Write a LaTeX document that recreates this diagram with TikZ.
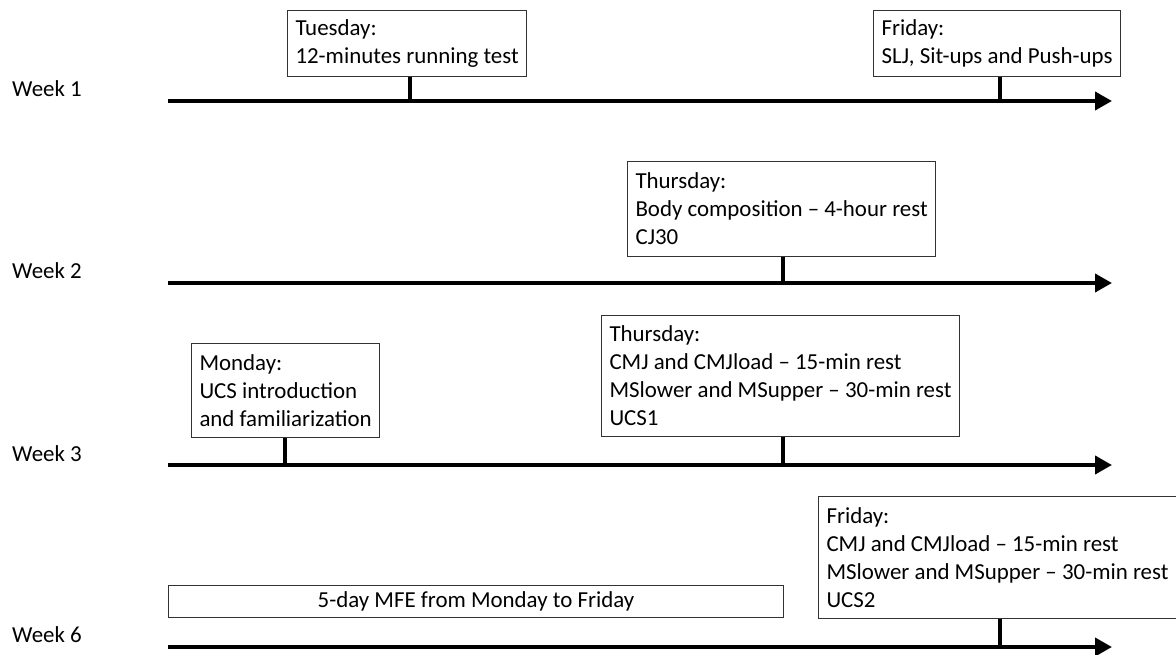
\documentclass[tikz,border=0pt]{standalone}
\usepackage{fontspec}
\setmainfont{Carlito}
\usetikzlibrary{arrows.meta}

\begin{document}
\begin{tikzpicture}[x=1pt,y=-1pt,every node/.style={font=\fontsize{22.9}{28}\selectfont}]
    \tikzstyle{daybox} = [rectangle,draw=black!80,line width=1pt,fill=white,anchor=north west,align=left,inner xsep=8pt,inner ysep=0pt]
    \tikzstyle{timeline} = [line width=4pt,-{Triangle[length=17pt,width=18pt]}]
    \tikzstyle{stem} = [line width=4pt]
    \tikzstyle{weeklabel} = [anchor=base west,inner sep=0pt]

    \useasboundingbox (0,0) rectangle (1176,655);

    % week 1
    \coordinate (w1s) at (168,101);
    \coordinate (w1e) at (1112,101);
    \node (week1) [weeklabel] at (12,97) {Week 1};
    \draw [timeline] (w1s) -- (w1e);
    \node (tue) [daybox, minimum height=66pt] at (287,10) {Tuesday:\\12-minutes running test};
    \node (fri1) [daybox, minimum height=66pt] at (873,10) {Friday:\\SLJ, Sit-ups and Push-ups};
    \coordinate (s1) at (410,101);
    \coordinate (s2) at (1000,101);
    \draw [stem] (s1 |- tue.south) -- (s1);
    \draw [stem] (s2 |- fri1.south) -- (s2);

    % week 2
    \coordinate (w2s) at (168,283);
    \coordinate (w2e) at (1112,283);
    \node (week2) [weeklabel] at (12,279) {Week 2};
    \draw [timeline] (w2s) -- (w2e);
    \node (thu2) [daybox, minimum height=95pt] at (627,161) {Thursday:\\Body composition -- 4-hour rest\\CJ30};
    \coordinate (s3) at (783,283);
    \draw [stem] (s3 |- thu2.south) -- (s3);

    % week 3
    \coordinate (w3s) at (168,465);
    \coordinate (w3e) at (1112,465);
    \node (week3) [weeklabel] at (12,461) {Week 3};
    \draw [timeline] (w3s) -- (w3e);
    \node (mon3) [daybox, minimum height=94pt] at (191,343) {Monday:\\UCS introduction\\and familiarization};
    \node (thu3) [daybox, minimum height=121pt] at (601,315) {Thursday:\\CMJ and CMJload -- 15-min rest\\MSlower and MSupper -- 30-min rest\\UCS1};
    \coordinate (s4) at (285,465);
    \coordinate (s5) at (783,465);
    \draw [stem] (s4 |- mon3.south) -- (s4);
    \draw [stem] (s5 |- thu3.south) -- (s5);

    % week 6
    \coordinate (w6s) at (168,647);
    \coordinate (w6e) at (1112,647);
    \node (week6) [weeklabel] at (12,642) {Week 6};
    \draw [timeline] (w6s) -- (w6e);
    \node (mfe) [daybox, align=center, minimum width=615pt, minimum height=32pt] at (168,585) {5-day MFE from Monday to Friday};
    \node (fri6) [daybox, minimum height=122pt] at (818,496) {Friday:\\CMJ and CMJload -- 15-min rest\\MSlower and MSupper -- 30-min rest\\UCS2};
    \coordinate (s6) at (1000,647);
    \draw [stem] (s6 |- fri6.south) -- (s6);

\end{tikzpicture}
\end{document}
